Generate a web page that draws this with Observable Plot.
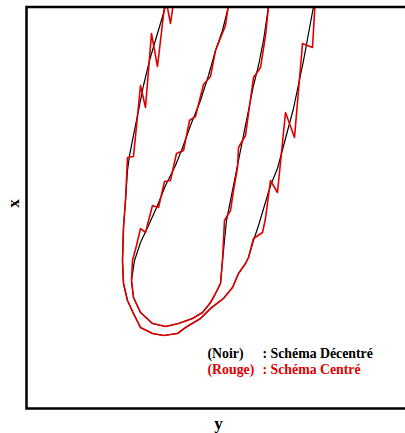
<!DOCTYPE html>
<html>
<head>
<meta charset="utf-8">
<script src="https://cdn.jsdelivr.net/npm/d3@7"></script>
<script src="https://cdn.jsdelivr.net/npm/@observablehq/plot@0.6"></script>
<style>
  html, body { margin: 0; padding: 0; background: #fff; overflow: hidden; width: 405px; height: 433px; }
  #chart { width: 405px; height: 433px; overflow: hidden; }
  #chart svg { display: block; max-width: none !important; }
</style>
</head>
<body>
<div id="chart"></div>
<script>
// Horizontal coordinate (axis "y") and vertical coordinate (axis "x"), arbitrary units 0–100
// Outer curve, black (Noir : Schéma Décentré)
const outerNoirY = [36.20, 34.11, 32.03, 30.47, 29.17, 27.86, 26.82, 26.30, 25.78, 25.26, 25.00, 25.26, 26.30, 27.86, 29.69, 32.81, 35.68, 39.32, 41.41, 45.31, 47.92, 51.30, 53.65, 55.21, 57.03, 57.81, 59.11, 60.42, 61.98, 63.54, 65.36, 67.45, 69.53, 72.14, 73.44, 74.74];
const outerNoirX = [100.12, 93.40, 86.67, 80.45, 74.22, 68.00, 63.01, 59.28, 51.81, 45.08, 36.86, 31.13, 26.90, 23.66, 20.17, 18.68, 18.18, 18.68, 20.17, 22.42, 24.91, 27.40, 30.14, 33.62, 36.11, 37.61, 41.84, 45.58, 50.56, 55.54, 59.78, 67.25, 74.72, 86.67, 93.40, 100.12];

// Outer curve, red (Rouge : Schéma Centré)
const outerRougeY = [38.54, 37.50, 36.20, 34.11, 32.55, 30.99, 29.69, 27.86, 26.30, 25.78, 25.26, 25.00, 25.26, 26.30, 27.86, 29.69, 32.81, 35.68, 39.32, 41.41, 45.31, 47.92, 51.30, 53.65, 55.21, 57.03, 57.81, 59.11, 61.46, 62.24, 63.54, 65.36, 67.45, 69.79, 71.88, 74.48, 75.26];
const outerRougeX = [102.86, 95.89, 102.37, 85.18, 93.40, 74.97, 80.45, 62.76, 62.52, 51.81, 45.08, 36.86, 31.13, 26.90, 23.66, 20.17, 18.68, 18.18, 18.68, 20.17, 22.42, 24.91, 27.40, 30.14, 33.62, 36.11, 37.61, 42.34, 43.84, 47.32, 56.79, 53.80, 73.72, 67.50, 90.91, 89.91, 102.86];

// Inner curve, black
const innerNoirY = [52.60, 51.04, 49.22, 47.40, 45.31, 42.71, 40.36, 38.80, 36.20, 34.11, 31.77, 29.69, 28.13, 27.34, 27.86, 29.69, 32.81, 36.20, 39.58, 43.23, 45.83, 47.92, 49.22, 50.52, 51.04, 51.56, 52.08, 53.13, 54.17, 55.21, 56.51, 57.81, 59.11, 60.42, 61.72, 63.02];
const innerNoirX = [100.12, 94.15, 89.17, 82.94, 76.71, 70.49, 64.26, 60.52, 55.54, 50.56, 45.58, 41.34, 36.86, 31.88, 27.65, 23.91, 21.17, 20.42, 21.17, 22.42, 23.91, 26.40, 28.64, 31.13, 36.86, 41.84, 46.82, 51.81, 56.79, 61.77, 68.00, 74.22, 80.45, 85.43, 91.66, 100.12];

// Inner curve, red
const innerRougeY = [52.86, 51.82, 49.22, 47.92, 46.09, 44.01, 42.45, 40.89, 39.06, 37.50, 35.94, 34.38, 32.81, 30.99, 29.69, 28.65, 27.60, 27.34, 27.86, 29.69, 32.81, 36.20, 39.58, 43.23, 45.83, 47.92, 49.22, 50.52, 51.04, 51.30, 51.56, 53.13, 53.91, 54.95, 55.21, 57.03, 59.11, 60.94, 62.24, 63.28];
const innerRougeX = [102.37, 95.39, 89.17, 82.69, 80.70, 72.73, 71.73, 64.26, 63.51, 56.79, 56.54, 50.06, 50.56, 43.84, 44.83, 40.60, 36.86, 31.88, 27.65, 23.91, 21.17, 20.42, 21.17, 22.42, 23.91, 26.40, 28.64, 31.13, 36.86, 41.84, 46.82, 49.32, 54.30, 60.02, 65.01, 68.00, 82.44, 84.93, 92.90, 102.37];

const legendKeys = ["(Noir)", "(Rouge)"];
const legendTexts = [": Schéma Décentré", ": Schéma Centré"];
const seriesColors = ["#000000", "#e00000"];
const axisLabelH = "y";
const axisLabelV = "x";

function rows(curve, ys, xs) {
  return ys.map((v, i) => ({curve, y: v, x: xs[i]}));
}
const noir = [...rows("outer", outerNoirY, outerNoirX), ...rows("inner", innerNoirY, innerNoirX)];
const rouge = [...rows("outer", outerRougeY, outerRougeX), ...rows("inner", innerRougeY, innerRougeX)];

const font = "'Liberation Serif', 'Times New Roman', serif";

const legendMarks = legendKeys.flatMap((k, i) => [
  Plot.text([k], {text: d => d, frameAnchor: "top-left", dx: 181, dy: 346.5 + i * 16, textAnchor: "start", lineAnchor: "middle", fontSize: 13.8, fontWeight: "bold", fill: seriesColors[i]}),
  Plot.text([legendTexts[i]], {text: d => d, frameAnchor: "top-left", dx: 236, dy: 346.5 + i * 16, textAnchor: "start", lineAnchor: "middle", fontSize: 13.8, fontWeight: "bold", fill: seriesColors[i]})
]);

const chart = Plot.plot({
  width: 420,
  height: 433,
  marginLeft: 26,
  marginRight: 10,
  marginTop: 6.5,
  marginBottom: 25,
  style: {background: "#fff", fontFamily: font, maxWidth: "none"},
  x: {domain: [0, 100], axis: null},
  y: {domain: [0, 100], axis: null},
  marks: [
    Plot.line(noir, {x: "y", y: "x", z: "curve", stroke: seriesColors[0], strokeWidth: 1.2, clip: true}),
    Plot.line(rouge, {x: "y", y: "x", z: "curve", stroke: seriesColors[1], strokeWidth: 1.6, clip: true}),
    Plot.frame({stroke: "#000", strokeWidth: 2.5}),
    Plot.text([axisLabelH], {text: d => d, frameAnchor: "bottom", dy: 15, fontSize: 17, fontWeight: "bold", fill: "#000", lineAnchor: "middle"}),
    Plot.text([axisLabelV], {text: d => d, frameAnchor: "left", dx: -13, fontSize: 17, fontWeight: "bold", fill: "#000", rotate: -90, lineAnchor: "middle"}),
    ...legendMarks
  ]
});

document.getElementById("chart").append(chart);
</script>
</body>
</html>
